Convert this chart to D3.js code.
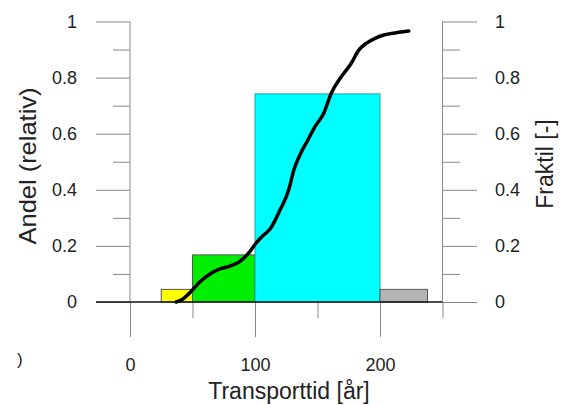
<!DOCTYPE html>
<html>
<head>
<meta charset="utf-8">
<script src="https://cdn.jsdelivr.net/npm/d3@7"></script>
<style>
  html, body { margin: 0; padding: 0; background: #fff; }
  svg { display: block; }
  text { font-family: "Liberation Sans", Arial, sans-serif; fill: #222; }
</style>
</head>
<body>
<script>
// ---- data ----
const binStart = [25, 50, 100, 200];
const binEnd   = [50, 100, 200, 238];
const binShare = [0.045, 0.168, 0.742, 0.045];
const binFill  = ["#ffff00", "#00ee00", "#00ffff", "#b4b4b4"];

const cdfTime = [37, 41, 50, 56, 64, 72, 80, 88, 95, 100, 106, 112, 120, 127, 131, 136, 142, 148, 155, 161, 169, 177, 183, 189, 196, 203, 213, 223];
const cdfFrac = [0, 0.007, 0.043, 0.072, 0.10, 0.118, 0.128, 0.145, 0.175, 0.205, 0.235, 0.26, 0.328, 0.40, 0.47, 0.525, 0.575, 0.625, 0.673, 0.744, 0.803, 0.851, 0.898, 0.922, 0.94, 0.952, 0.96, 0.966];

const xMajor = [0, 100, 200];
const xMinor = [50, 150, 250];
const yMajor = [0, 0.2, 0.4, 0.6, 0.8, 1];
const yMinor = [0.1, 0.3, 0.5, 0.7, 0.9];

const xTitle = "Transporttid [år]";
const yLeftTitle = "Andel (relativ)";
const yRightTitle = "Fraktil [-]";

// ---- chart ----
const W = 565, H = 405;
const svg = d3.select("body").append("svg").attr("width", W).attr("height", H);
svg.append("rect").attr("width", W).attr("height", H).attr("fill", "#fff");

const x = d3.scaleLinear().domain([0, 200]).range([130, 380]);
const y = d3.scaleLinear().domain([0, 1]).range([302, 21.5]);

const bars = binStart.map((s, i) => ({ s, e: binEnd[i], v: binShare[i], c: binFill[i] }));
svg.append("g").selectAll("rect").data(bars).join("rect")
  .attr("x", d => x(d.s))
  .attr("y", d => y(d.v))
  .attr("width", d => x(d.e) - x(d.s))
  .attr("height", d => y(0) - y(d.v))
  .attr("fill", d => d.c)
  .attr("stroke", (d, i) => i === 2 ? "#3c9c9c" : "#555")
  .attr("stroke-width", 1);

const gray = "#8a8a8a";
function styleAxis(g) {
  g.attr("font-size", null).attr("font-family", null);
  g.select(".domain").remove();
  g.selectAll(".tick line").attr("stroke", gray).attr("stroke-width", 1);
  g.selectAll(".tick text").style("font-size", "18px").attr("fill", "#222");
}
const fmt = d3.format("~g");

// left axis
svg.append("g").attr("transform", "translate(130,0)")
  .call(d3.axisLeft(y).tickValues(yMajor).tickSize(34).tickPadding(19).tickFormat(fmt))
  .call(styleAxis);
svg.append("g").attr("transform", "translate(130,0)")
  .call(d3.axisLeft(y).tickValues(yMinor).tickSize(17).tickFormat(""))
  .call(styleAxis);

// right axis
svg.append("g").attr("transform", "translate(442,0)")
  .call(d3.axisRight(y).tickValues(yMajor).tickSize(35).tickPadding(18).tickFormat(fmt))
  .call(styleAxis);
svg.append("g").attr("transform", "translate(442,0)")
  .call(d3.axisRight(y).tickValues(yMinor).tickSize(18).tickFormat(""))
  .call(styleAxis);

// bottom axis
svg.append("g").attr("transform", "translate(0,302)")
  .call(d3.axisBottom(x).tickValues(xMajor).tickSize(35).tickPadding(21).tickFormat(fmt))
  .call(styleAxis);
svg.append("g").attr("transform", "translate(0,302)")
  .call(d3.axisBottom(x).tickValues(xMinor).tickSize(16).tickFormat(""))
  .call(styleAxis);

// vertical axis lines
svg.append("line").attr("x1", x(0)).attr("x2", x(0)).attr("y1", y(1)).attr("y2", y(0))
  .attr("stroke", gray);
svg.append("line").attr("x1", x(250)).attr("x2", x(250)).attr("y1", y(1)).attr("y2", y(0))
  .attr("stroke", gray);

// baseline
svg.append("line").attr("x1", 96).attr("x2", x(250)).attr("y1", y(0)).attr("y2", y(0))
  .attr("stroke", "#111").attr("stroke-width", 1.5);

// cdf curve
const pts = cdfTime.map((t, i) => [t, cdfFrac[i]]);
svg.append("path").datum(pts)
  .attr("d", d3.line().x(d => x(d[0])).y(d => y(d[1])).curve(d3.curveMonotoneX))
  .attr("fill", "none").attr("stroke", "#000").attr("stroke-width", 3.5)
  .attr("stroke-linecap", "round").attr("stroke-linejoin", "round");

// titles
svg.append("text").attr("x", 289).attr("y", 399).attr("text-anchor", "middle")
  .style("font-size", "23px").text(xTitle);
svg.append("text").attr("transform", "translate(36,166) rotate(-90)")
  .attr("text-anchor", "middle").style("font-size", "24px")
  .attr("textLength", 157).attr("lengthAdjust", "spacingAndGlyphs").text(yLeftTitle);
svg.append("text").attr("transform", "translate(553,164) rotate(-90)")
  .attr("text-anchor", "middle").style("font-size", "23px").text(yRightTitle);

// fragment of a panel label at the left edge
svg.append("text").attr("x", 17).attr("y", 365).style("font-size", "17px").text(")");
</script>
</body>
</html>
